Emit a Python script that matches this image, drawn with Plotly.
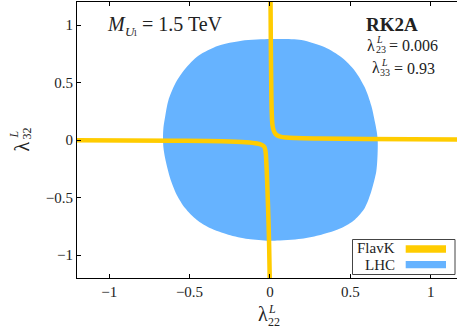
import plotly.graph_objects as go

# ---------------- data ----------------
# LHC allowed region boundary (lambda_22, lambda_32), clockwise from top
lhc_x = [0.0, 0.031, 0.196, 0.342, 0.445, 0.528, 0.590, 0.631, 0.656, 0.666,
         0.671, 0.670, 0.662, 0.631, 0.590, 0.528, 0.445, 0.320, 0.196, 0.031,
         -0.010, -0.135, -0.259, -0.373, -0.456, -0.528, -0.580, -0.621, -0.652, -0.662,
         -0.665, -0.662, -0.652, -0.632, -0.590, -0.528, -0.445, -0.321, -0.176, 0.0]
lhc_y = [0.878, 0.878, 0.870, 0.806, 0.719, 0.603, 0.458, 0.298, 0.139, 0.060,
         -0.012, -0.120, -0.272, -0.446, -0.591, -0.693, -0.765, -0.823, -0.858, -0.875,
         -0.876, -0.861, -0.823, -0.765, -0.693, -0.591, -0.475, -0.330, -0.157, -0.070,
         0.026, 0.110, 0.200, 0.342, 0.487, 0.617, 0.733, 0.820, 0.864, 0.878]

# FlavK allowed band: upper-right branch
flavk_ur_x = [0.004, 0.006, 0.009, 0.012, 0.016, 0.022, 0.030, 0.043, 0.065, 0.100, 0.160, 0.300, 0.600, 1.200]
flavk_ur_y = [1.200, 0.800, 0.400, 0.220, 0.130, 0.090, 0.063, 0.043, 0.030, 0.022, 0.017, 0.013, 0.009, 0.005]
# FlavK allowed band: lower-left branch
flavk_ll_x = [-1.200, -0.600, -0.300, -0.150, -0.080, -0.050, -0.035, -0.027, -0.022, -0.016, -0.010, -0.005, -0.001]
flavk_ll_y = [-0.002, -0.006, -0.011, -0.020, -0.031, -0.043, -0.058, -0.100, -0.200, -0.400, -0.650, -0.900, -1.200]

x_ticks = [-1, -0.5, 0, 0.5, 1]
y_ticks = [-1, -0.5, 0, 0.5, 1]
tick_text = ["−1", "−0.5", "0", "0.5", "1"]

YELLOW = "#ffcc00"
BLUE = "#66b3ff"
TXT = "#222222"
FONT = "Liberation Serif"

# ---------------- figure ----------------
W, H = 457, 332
L, R, T, B = 77, 0, 2, 54
PW, PH = W - L - R, H - T - B


def px(x):
    return (x - L) / PW


def py(y):
    return (H - B - y) / PH


fig = go.Figure()
fig.add_trace(go.Scatter(x=lhc_x, y=lhc_y, mode="lines", fill="toself",
                         fillcolor=BLUE, line=dict(width=0, color=BLUE, shape="spline", smoothing=0.8),
                         name="LHC", showlegend=False, hoverinfo="skip"))
fig.add_trace(go.Scatter(x=flavk_ur_x, y=flavk_ur_y, mode="lines",
                         line=dict(color=YELLOW, width=4.5, shape="spline"),
                         name="FlavK", showlegend=False, hoverinfo="skip"))
fig.add_trace(go.Scatter(x=flavk_ll_x, y=flavk_ll_y, mode="lines",
                         line=dict(color=YELLOW, width=4.5, shape="spline"),
                         name="FlavK", showlegend=False, hoverinfo="skip"))

ann = []


def text(x, y, s, size, xanchor="left", angle=0, bold=False):
    if bold:
        s = "<b>" + s + "</b>"
    ann.append(dict(x=px(x), y=py(y), xref="paper", yref="paper", text=s,
                    showarrow=False, xanchor=xanchor, yanchor="middle",
                    textangle=angle, borderpad=0,
                    font=dict(family=FONT, size=size, color=TXT)))


# M_{U_1} = 1.5 TeV
text(106, 24, "<i>M</i>", 20)
text(123.5, 31, "<i>U</i>", 13)
text(132, 33.5, "1", 9)
text(141, 24, "= 1.5 TeV", 20)

# RK2A
text(392, 24, "RK2A", 19, xanchor="center", bold=True)

# lambda labels
for dx, dy, sub, val in [(0, 0, "23", "= 0.006"), (4.7, 22.7, "33", "= 0.93")]:
    text(366 + dx, 45 + dy, "λ", 16)
    text(375 + dx, 39.5 + dy, "<i>L</i>", 10)
    text(374.5 + dx, 49.5 + dy, sub, 10)
    text(388 + dx, 45.5 + dy, val, 16)

# x-axis title
text(257, 314, "λ", 20)
text(267, 308.5, "<i>L</i>", 12)
text(266.5, 321.5, "22", 12)

# y-axis title (rotated)
text(21.5, 146, "λ", 20, xanchor="center", angle=-90)
text(13, 134.5, "<i>L</i>", 12, xanchor="center", angle=-90)
text(26, 133.5, "32", 12, xanchor="center", angle=-90)

# legend
text(396, 248, "FlavK", 15, xanchor="right")
text(396, 264.5, "LHC", 15, xanchor="right")

shapes = [
    dict(type="rect", xref="paper", yref="paper", x0=px(352.5), x1=px(455), y0=py(239.5), y1=py(274.5),
         line=dict(color="#444444", width=1), fillcolor="white", layer="above"),
    dict(type="rect", xref="paper", yref="paper", x0=px(405.7), x1=px(446), y0=py(245.3), y1=py(252.7),
         line=dict(width=0), fillcolor=YELLOW, layer="above"),
    dict(type="rect", xref="paper", yref="paper", x0=px(405.7), x1=px(446), y0=py(261), y1=py(268.3),
         line=dict(width=0), fillcolor=BLUE, layer="above"),
]

axis_common = dict(showgrid=False, zeroline=False, showline=True, linecolor="black",
                   linewidth=1.2, ticks="inside", ticklen=4, tickwidth=1, tickcolor="black",
                   tickfont=dict(family=FONT, size=15, color=TXT))

fig.update_layout(
    width=W, height=H,
    margin=dict(l=L, r=R, t=T, b=B, pad=0),
    paper_bgcolor="white", plot_bgcolor="white",
    showlegend=False,
    hovermode=False,
    xaxis=dict(range=[-1.2, 1.164], tickvals=x_ticks, ticktext=tick_text,
               mirror="ticks", **axis_common),
    yaxis=dict(range=[-1.2, 1.2], tickvals=y_ticks, ticktext=tick_text,
               mirror=False, **axis_common),
    annotations=ann,
    shapes=shapes,
)

fig.write_html("out.html", config={"displayModeBar": False},
               post_script="document.body.style.margin='0';document.body.style.padding='0';")
